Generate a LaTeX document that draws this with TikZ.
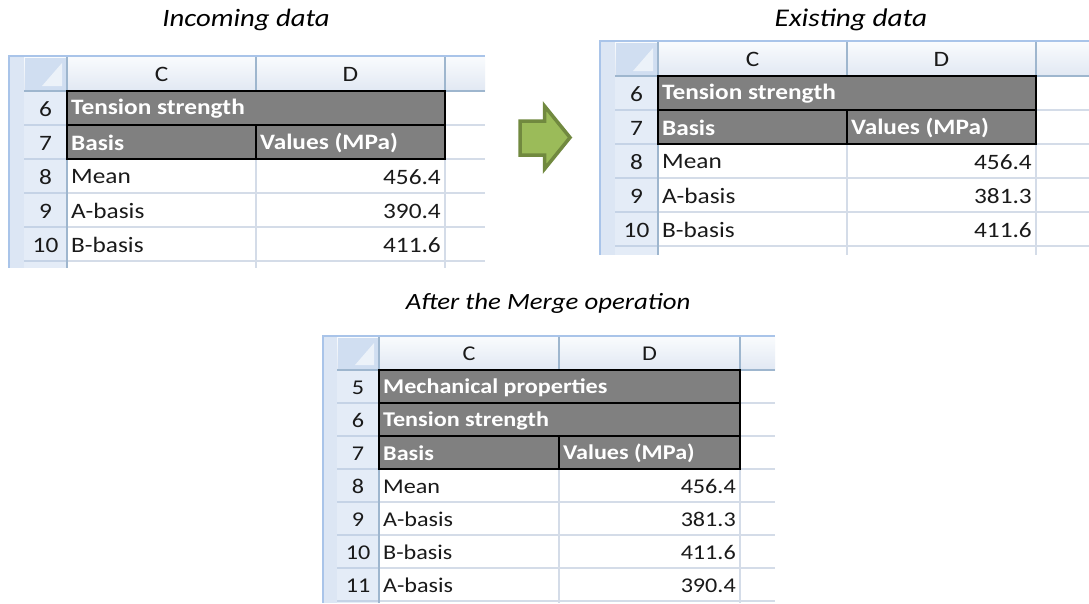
\documentclass[tikz,border=0pt]{standalone}
\usepackage{fontspec}
\setmainfont{Carlito}[FakeStretch=1.15]
\definecolor{stripblue}{HTML}{DCE6F4}
\definecolor{edgeblue}{HTML}{A9C4E9}
\definecolor{hdtop}{HTML}{F9FBFD}
\definecolor{hdbot}{HTML}{E1E8F3}
\definecolor{hdline}{HTML}{9EB6CE}
\definecolor{cornerblue}{HTML}{D0DEF1}
\definecolor{rowblue}{HTML}{E4ECF7}
\definecolor{rowline}{HTML}{C5D3E6}
\definecolor{gridc}{HTML}{D4DCE8}
\definecolor{darkcell}{HTML}{808080}
\definecolor{arrowfill}{HTML}{9BBB59}
\definecolor{arrowline}{HTML}{71893F}
\definecolor{txt}{HTML}{1A1A1A}
\tikzset{
  title/.style={font=\itshape\fontsize{25}{27}\selectfont, text=black, inner sep=0pt},
  rownum/.style={font=\fontsize{\FS}{\FS}\selectfont, text=txt, inner sep=0pt},
  colhead/.style={font=\fontsize{\FS}{\FS}\selectfont, text=txt, inner sep=0pt},
  cell/.style={font=\fontsize{\FS}{\FS}\selectfont, text=txt, inner sep=0pt, anchor=west},
  numcell/.style={font=\fontsize{\FS}{\FS}\selectfont, text=txt, inner sep=0pt, anchor=east},
  darktext/.style={font=\bfseries\fontsize{\FS}{\FS}\selectfont, text=white, inner sep=0pt, anchor=west},
  dark/.style={fill=darkcell, draw=black, line width=1.5pt},
  gridline/.style={draw=gridc, line width=1.2pt},
}
\newcommand\drawsheet{%
  \fill[stripblue] (\SX,\TY) rectangle (\RX,\BY);
  \draw[edgeblue,line width=2.5pt] (\SX+1.2,\TY) -- (\SX+1.2,\BY);
  \shade[top color=hdtop,bottom color=hdbot] (\RX,\TY+2) rectangle (\FX,\HY);
  \draw[edgeblue,line width=2.5pt] (\SX,\TY+1.2) -- (\FX,\TY+1.2);
  \fill[cornerblue] (\RX+1,\TY+3) rectangle (\CX-1,\HY-1);
  \fill[white!60!cornerblue] (\CX-5,\TY+8) -- (\CX-5,\HY-5) -- (\RX+18,\HY-5) -- cycle;
  \fill[rowblue] (\RX,\HY) rectangle (\CX,\BY);
  \foreach \i in {1,...,\NR} {
    \draw[rowline, line width=1.2pt] (\RX,\HY+\i*\RH) -- (\CX,\HY+\i*\RH);
    \draw[gridline] (\CX,\HY+\i*\RH) -- (\FX,\HY+\i*\RH);
  }
  \draw[gridline] (\DX,\HY) -- (\DX,\BY);
  \draw[gridline] (\EX,\HY) -- (\EX,\BY);
  \draw[hdline, line width=1.5pt] (\CX,\TY+2) -- (\CX,\BY);
  \draw[hdline, line width=1.2pt] (\DX,\TY+2) -- (\DX,\HY);
  \draw[hdline, line width=1.2pt] (\EX,\TY+2) -- (\EX,\HY);
  \draw[hdline, line width=1.5pt] (\RX,\HY) -- (\FX,\HY);
}
\begin{document}
\begin{tikzpicture}[x=1pt,y=-1pt]
\useasboundingbox (0,0) rectangle (1089,603);
\fill[white] (0,0) rectangle (1089,603);

% ---------- titles
\node[title] (tin) at (246,20) {Incoming data};
\node[title, font=\itshape\fontsize{25.5}{27}\selectfont] (tex) at (851,20) {Existing data};
\node[title, font=\itshape\fontsize{23.3}{25}\selectfont] (tmg) at (548,303.5) {After the Merge operation};

% ---------- table 1: incoming
\def\FS{22}
\def\SX{8}\def\RX{24}\def\CX{67}\def\DX{256}\def\EX{445}\def\FX{485}
\def\TY{55}\def\HY{91}\def\RH{34}\def\NR{5}\def\BY{268}
\drawsheet
\path[dark] (\CX,\HY) rectangle (\EX,\HY+\RH);
\path[dark] (\CX,\HY+\RH) rectangle (\DX,\HY+2*\RH);
\path[dark] (\DX,\HY+\RH) rectangle (\EX,\HY+2*\RH);
\node[colhead] (a-c) at ({(\CX+\DX)/2},{(\TY+\HY)/2+1}) {C};
\node[colhead] (a-d) at ({(\DX+\EX)/2},{(\TY+\HY)/2+1}) {D};
\foreach \r/\n in {0/6,1/7,2/8,3/9,4/10}
  \node[rownum] (a-r\n) at ({(\RX+\CX)/2},{\HY+(\r+0.5)*\RH+1}) {\n};
\node[darktext] (a-t6) at (\CX+4,\HY+0.5*\RH+1) {Tension strength};
\node[darktext] (a-t7c) at (\CX+4,\HY+1.5*\RH+1) {Basis};
\node[darktext] (a-t7d) at (\DX+4,\HY+1.5*\RH+1) {Values (MPa)};
\node[cell] (a-t8c) at (\CX+4,\HY+2.5*\RH+1) {Mean};
\node[numcell] (a-t8d) at (\EX-4,\HY+2.5*\RH+1) {456.4};
\node[cell] (a-t9c) at (\CX+4,\HY+3.5*\RH+1) {A-basis};
\node[numcell] (a-t9d) at (\EX-4,\HY+3.5*\RH+1) {390.4};
\node[cell] (a-t10c) at (\CX+4,\HY+4.5*\RH+1) {B-basis};
\node[numcell] (a-t10d) at (\EX-4,\HY+4.5*\RH+1) {411.6};

% ---------- table 2: existing
\def\SX{599}\def\RX{615}\def\CX{658}\def\DX{847}\def\EX{1036}\def\FX{1089}
\def\TY{40}\def\HY{76}\def\RH{34}\def\NR{5}\def\BY{255}
\drawsheet
\path[dark] (\CX,\HY) rectangle (\EX,\HY+\RH);
\path[dark] (\CX,\HY+\RH) rectangle (\DX,\HY+2*\RH);
\path[dark] (\DX,\HY+\RH) rectangle (\EX,\HY+2*\RH);
\node[colhead] (b-c) at ({(\CX+\DX)/2},{(\TY+\HY)/2+1}) {C};
\node[colhead] (b-d) at ({(\DX+\EX)/2},{(\TY+\HY)/2+1}) {D};
\foreach \r/\n in {0/6,1/7,2/8,3/9,4/10}
  \node[rownum] (b-r\n) at ({(\RX+\CX)/2},{\HY+(\r+0.5)*\RH+1}) {\n};
\node[darktext] (b-t6) at (\CX+4,\HY+0.5*\RH+1) {Tension strength};
\node[darktext] (b-t7c) at (\CX+4,\HY+1.5*\RH+1) {Basis};
\node[darktext] (b-t7d) at (\DX+4,\HY+1.5*\RH+1) {Values (MPa)};
\node[cell] (b-t8c) at (\CX+4,\HY+2.5*\RH+1) {Mean};
\node[numcell] (b-t8d) at (\EX-4,\HY+2.5*\RH+1) {456.4};
\node[cell] (b-t9c) at (\CX+4,\HY+3.5*\RH+1) {A-basis};
\node[numcell] (b-t9d) at (\EX-4,\HY+3.5*\RH+1) {381.3};
\node[cell] (b-t10c) at (\CX+4,\HY+4.5*\RH+1) {B-basis};
\node[numcell] (b-t10d) at (\EX-4,\HY+4.5*\RH+1) {411.6};

% ---------- arrow
\filldraw[fill=arrowfill, draw=arrowline, line width=3.5pt, line join=miter]
  (520,121) -- (544.5,121) -- (544.5,106) -- (570,137.5) -- (544.5,169) -- (544.5,155) -- (520,155) -- cycle;

% ---------- table 3: merged
\def\FS{21}
\def\SX{322}\def\RX{337}\def\CX{379}\def\DX{559}\def\EX{740}\def\FX{775}
\def\TY{335}\def\HY{370}\def\RH{33}\def\NR{7}\def\BY{603}
\drawsheet
\path[dark] (\CX,\HY) rectangle (\EX,\HY+\RH);
\path[dark] (\CX,\HY+\RH) rectangle (\EX,\HY+2*\RH);
\path[dark] (\CX,\HY+2*\RH) rectangle (\DX,\HY+3*\RH);
\path[dark] (\DX,\HY+2*\RH) rectangle (\EX,\HY+3*\RH);
\node[colhead] (c-c) at ({(\CX+\DX)/2},{(\TY+\HY)/2+1}) {C};
\node[colhead] (c-d) at ({(\DX+\EX)/2},{(\TY+\HY)/2+1}) {D};
\foreach \r/\n in {0/5,1/6,2/7,3/8,4/9,5/10,6/11}
  \node[rownum] (c-r\n) at ({(\RX+\CX)/2},{\HY+(\r+0.5)*\RH+1}) {\n};
\node[darktext] (c-t5) at (\CX+4,\HY+0.5*\RH+1) {Mechanical properties};
\node[darktext] (c-t6) at (\CX+4,\HY+1.5*\RH+1) {Tension strength};
\node[darktext] (c-t7c) at (\CX+4,\HY+2.5*\RH+1) {Basis};
\node[darktext] (c-t7d) at (\DX+4,\HY+2.5*\RH+1) {Values (MPa)};
\node[cell] (c-t8c) at (\CX+4,\HY+3.5*\RH+1) {Mean};
\node[numcell] (c-t8d) at (\EX-4,\HY+3.5*\RH+1) {456.4};
\node[cell] (c-t9c) at (\CX+4,\HY+4.5*\RH+1) {A-basis};
\node[numcell] (c-t9d) at (\EX-4,\HY+4.5*\RH+1) {381.3};
\node[cell] (c-t10c) at (\CX+4,\HY+5.5*\RH+1) {B-basis};
\node[numcell] (c-t10d) at (\EX-4,\HY+5.5*\RH+1) {411.6};
\node[cell] (c-t11c) at (\CX+4,\HY+6.5*\RH+1) {A-basis};
\node[numcell] (c-t11d) at (\EX-4,\HY+6.5*\RH+1) {390.4};
\end{tikzpicture}
\end{document}
